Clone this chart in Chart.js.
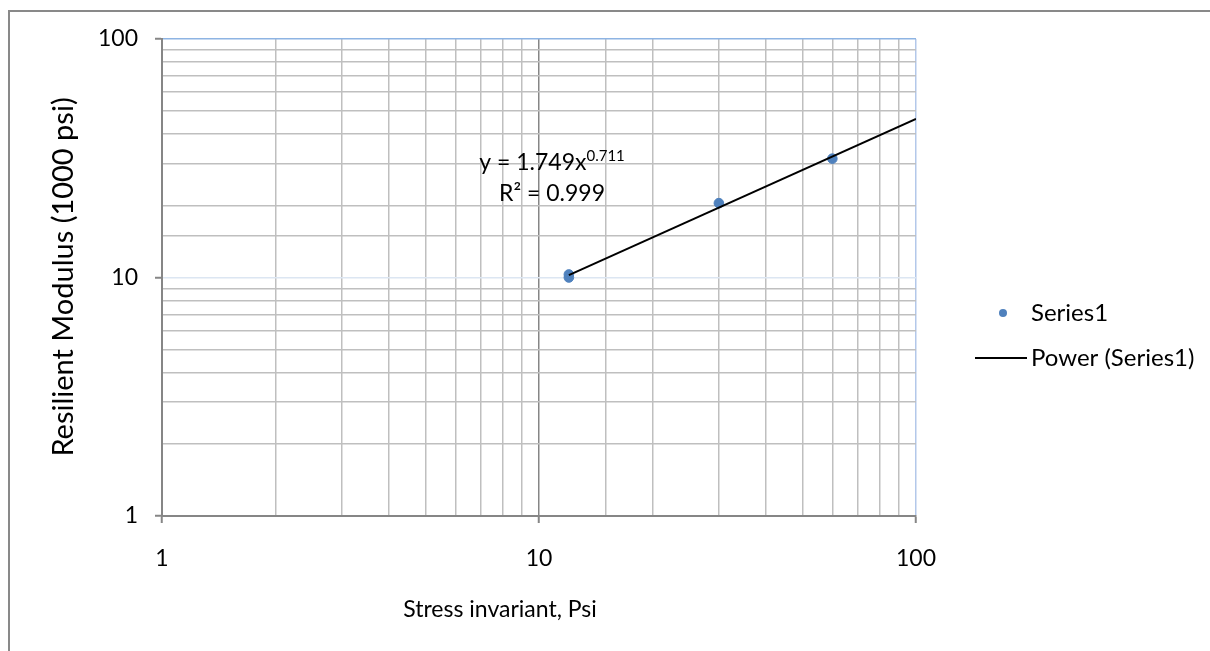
<!DOCTYPE html>
<html>
<head>
<meta charset="utf-8">
<script src="https://cdn.jsdelivr.net/npm/chart.js@4/dist/chart.umd.min.js"></script>
<style>
  html, body { margin: 0; padding: 0; background: #fff; }
  #wrap { width: 1210px; height: 651px; position: relative; }
</style>
</head>
<body>
<div id="wrap"><canvas id="chart" width="1210" height="651"></canvas></div>
<script>
const stressValues = [12, 12, 30, 60];
const modulusValues = [10.3, 10.0, 20.5, 31.5];
const decadeTicks = [1, 10, 100];

// power trendline as printed on the chart
const fitCoef = 1.749;
const fitExp = "0.711";
const rSquared = "0.999";
const trendRange = [12, 100];

const xTitle = "Stress invariant, Psi";
const yTitle = "Resilient Modulus (1000 psi)";
const seriesName = "Series1";
const trendName = "Power (Series1)";

const FONT = "Lato, 'Noto Sans', sans-serif";
const markerColour = "#4f81bd";
const gridGrey = "#bfbfbf";
const axisGrey = "#868686";

const isDecade = value => decadeTicks.includes(Math.round(value * 1000) / 1000);

const xGridColour = ctx => {
  const v = ctx.tick && ctx.tick.value;
  if (v === 10) return axisGrey;
  if (v === 100) return "#b3c8ea";
  return gridGrey;
};
const yGridColour = ctx => {
  const v = ctx.tick && ctx.tick.value;
  if (v === 100) return "#8eb4e3";
  if (v === 10) return "#dce6f2";
  return gridGrey;
};
const tickMarkColour = ctx => (ctx.tick && isDecade(ctx.tick.value)) ? axisGrey : "rgba(0,0,0,0)";

const decorations = {
  id: "decorations",
  afterDraw(chart) {
    const c = chart.ctx;
    c.save();

    // outer frame
    c.strokeStyle = "#898989";
    c.lineWidth = 2;
    c.strokeRect(9, 11, 1260, 700);

    c.fillStyle = "#000";
    c.textBaseline = "middle";

    // axis titles
    c.textAlign = "center";
    c.font = "23px " + FONT;
    c.fillText(xTitle, 500, 610);
    c.save();
    c.translate(64, 277);
    c.rotate(-Math.PI / 2);
    c.font = "29px " + FONT;
    c.fillText(yTitle, 0, 0);
    c.restore();

    // trendline equation, two centred lines
    const eqCentre = 552;
    c.textBaseline = "alphabetic";
    c.textAlign = "left";
    const eq = "y = " + fitCoef + "x";
    c.font = "23px " + FONT;
    const eqW = c.measureText(eq).width;
    c.font = "15px " + FONT;
    const supW = c.measureText(fitExp).width;
    const eqLeft = eqCentre - (eqW + supW) / 2;
    c.font = "23px " + FONT;
    c.fillText(eq, eqLeft, 170);
    c.font = "15px " + FONT;
    c.fillText(fitExp, eqLeft + eqW, 161);
    c.font = "23px " + FONT;
    c.textAlign = "center";
    c.fillText("R\u00b2 = " + rSquared, eqCentre, 201);

    // legend
    c.textAlign = "left";
    c.textBaseline = "middle";
    c.fillStyle = markerColour;
    c.beginPath();
    c.arc(1003, 313, 4, 0, Math.PI * 2);
    c.fill();
    c.strokeStyle = "#000";
    c.lineWidth = 2;
    c.beginPath();
    c.moveTo(975, 358);
    c.lineTo(1027, 358);
    c.stroke();
    c.fillStyle = "#000";
    c.font = "24px " + FONT;
    c.fillText(seriesName, 1031, 313);
    c.fillText(trendName, 1031, 358);

    c.restore();
  }
};

new Chart(document.getElementById("chart"), {
  type: "scatter",
  data: {
    datasets: [
      {
        label: trendName,
        type: "line",
        data: trendRange.map(x => ({ x, y: fitCoef * Math.pow(x, Number(fitExp)) })),
        borderColor: "#000",
        borderWidth: 2,
        pointRadius: 0,
        fill: false,
        order: 0
      },
      {
        label: seriesName,
        data: stressValues.map((x, i) => ({ x, y: modulusValues[i] })),
        backgroundColor: markerColour,
        borderColor: markerColour,
        pointRadius: 4.8,
        order: 1
      }
    ]
  },
  options: {
    responsive: false,
    animation: false,
    layout: { padding: { top: 39, left: 0, right: 294, bottom: 0 } },
    plugins: { legend: { display: false }, tooltip: { enabled: false } },
    scales: {
      x: {
        type: "logarithmic",
        min: 1,
        max: 100,
        afterFit: scale => { scale.height = 135; },
        border: { color: axisGrey, width: 2 },
        grid: { color: xGridColour, lineWidth: 1.5, tickLength: 7, tickColor: tickMarkColour, tickWidth: 2 },
        ticks: {
          autoSkip: false,
          maxRotation: 0,
          padding: 22,
          color: "#000",
          font: { family: FONT, size: 23 },
          callback: value => isDecade(value) ? String(value) : ""
        }
      },
      y: {
        type: "logarithmic",
        min: 1,
        max: 100,
        afterFit: scale => { scale.width = 162; },
        border: { color: axisGrey, width: 2 },
        grid: { color: yGridColour, lineWidth: 1.5, tickLength: 7, tickColor: tickMarkColour, tickWidth: 2 },
        ticks: {
          autoSkip: false,
          padding: 17,
          color: "#000",
          font: { family: FONT, size: 23 },
          callback: value => isDecade(value) ? String(value) : ""
        }
      }
    }
  },
  plugins: [decorations]
});
</script>
</body>
</html>
